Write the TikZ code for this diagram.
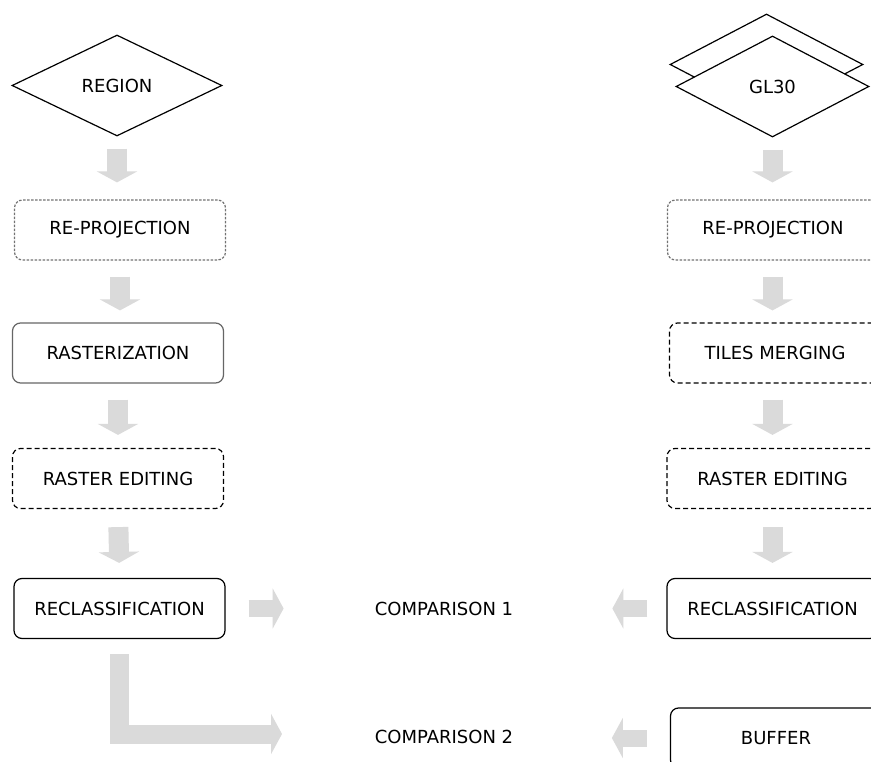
\documentclass[tikz,border=0pt]{standalone}
\usepackage{fontspec}
\setmainfont{DejaVu Sans}
\usetikzlibrary{shapes.geometric,arrows.meta}
\definecolor{blkgray}{RGB}{218,218,218}
\begin{document}
\begin{tikzpicture}[x=1pt,y=-1pt,
  lbl/.style={font=\fontsize{18}{21}\selectfont},
  boxbase/.style={rounded corners=8pt, minimum width=211pt, minimum height=60pt, inner sep=0pt, line width=1.2pt, lbl},
  dotbox/.style={boxbase, draw=black!55, dash pattern=on 2.5pt off 1.5pt},
  graybox/.style={boxbase, draw=black!60},
  dashbox/.style={boxbase, draw=black, dash pattern=on 5pt off 3pt},
  solidbox/.style={boxbase, draw=black},
  dia/.style={diamond, draw=black, fill=white, line width=1.2pt, inner sep=0pt, lbl},
  fatv/.style={draw=blkgray, line width=20pt, -{Triangle[width=40pt,length=11pt]}},
  fath/.style={draw=blkgray, line width=17pt, -{Triangle[width=40pt,length=11pt]}},
]
\clip (0,0) rectangle (871,762);
\fill[white] (0,0) rectangle (871,762);

% left column
\node[dia, minimum width=210pt, minimum height=101pt] (region) at (117,85.5) {REGION};
\node[dotbox] (rp1) at (120,230) {RE-PROJECTION};
\node[graybox] (ras) at (118,353) {RASTERIZATION};
\node[dashbox] (re1) at (118,478.5) {RASTER EDITING};
\node[solidbox] (rc1) at (119.5,608.5) {RECLASSIFICATION};

% right column
\node[dia, minimum width=193pt, minimum height=101pt] (gl30b) at (766.5,64.5) {};
\node[dia, minimum width=193pt, minimum height=101pt] (gl30) at (772.5,86.5) {GL30};
\node[dotbox] (rp2) at (773,230) {RE-PROJECTION};
\node[dashbox] (tm) at (775,353) {TILES MERGING};
\node[dashbox] (re2) at (772.5,478.5) {RASTER EDITING};
\node[solidbox] (rc2) at (772.5,608.5) {RECLASSIFICATION};
\node[solidbox] (buf) at (776,738) {BUFFER};

% comparisons
\node[lbl] (cmp1) at (444,609) {COMPARISON 1};
\node[lbl] (cmp2) at (444,737) {COMPARISON 2};

% left column arrows
\draw[fatv, shorten <=12pt, shorten >=17pt] (region.south) -- (region.south |- rp1.north);
\draw[fatv, shorten <=16pt, shorten >=12pt] (rp1.south) -- (rp1.south |- ras.north);
\draw[fatv, shorten <=16pt, shorten >=13pt] (ras.south) -- (re1.north);
\draw[fatv, shorten <=18pt, shorten >=15pt] (re1.south) -- (rc1.north);

% right column arrows
\draw[fatv, shorten <=12pt, shorten >=17pt] (gl30.south) -- (gl30.south |- rp2.north);
\draw[fatv, shorten <=16pt, shorten >=12pt] (gl30.south |- rp2.south) -- (gl30.south |- tm.north);
\draw[fatv, shorten <=16pt, shorten >=13pt] (gl30.south |- tm.south) -- (gl30.south |- re2.north);
\draw[fatv, shorten <=18pt, shorten >=15pt] (gl30.south |- re2.south) -- (gl30.south |- rc2.north);

% comparison arrows
\coordinate (lend) at (282,734);
\draw[fath] ([xshift=23pt]rc1.east) -- ([xshift=58pt]rc1.east);
\draw[draw=blkgray, line width=19pt, -{Triangle[width=40pt,length=11pt]}] ([yshift=-15pt]rc1.south) |- (lend);
\draw[fath] ([xshift=-19pt]rc2.west) -- ([xshift=-54pt]rc2.west);
\draw[fath] ([xshift=-23pt]buf.west) -- ([xshift=-58pt]buf.west);
\end{tikzpicture}
\end{document}
